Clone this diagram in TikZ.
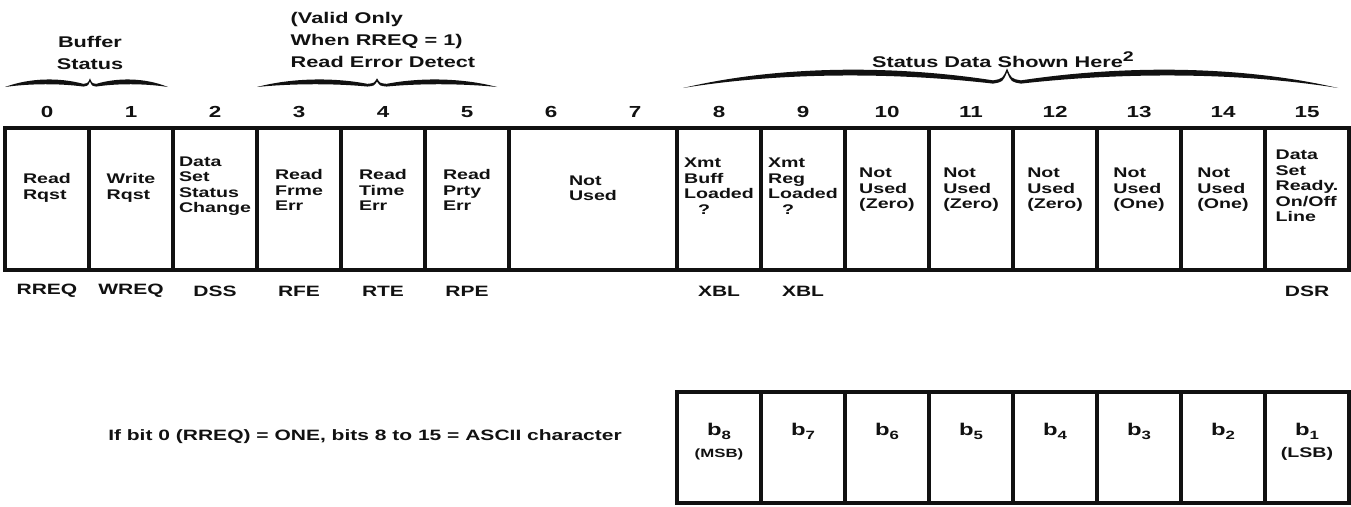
\documentclass[tikz,border=0pt]{standalone}
\usepackage{fontspec}
\setmainfont{Liberation Sans}[FakeStretch=1.4]
\usepackage{tikz}
\usetikzlibrary{positioning}
\definecolor{Ink}{HTML}{111111}

\newcommand{\bfsz}[1]{\fontsize{#1}{#1}\selectfont\bfseries}
\newcommand{\headfont}{\fontsize{15.5}{22}\selectfont\bfseries}
\newcommand{\cellfont}{\fontsize{14}{15.5}\selectfont\bfseries}
\newcommand{\sigfont}{\fontsize{15}{15}\selectfont\bfseries}
\newcommand{\numfont}{\fontsize{16}{16}\selectfont\bfseries}
\newcommand{\bitfont}{\fontsize{17}{17}\selectfont\bfseries}
% wavy over-brace: left x, tip x, right x, arm y, drop
\newcommand{\armbrace}[5]{%
  \pgfmathsetmacro\bL{#2-#1}\pgfmathsetmacro\bR{#3-#2}%
  \pgfmathsetmacro\bw{min(14,0.08*\bL)}\pgfmathsetmacro\bv{min(14,0.08*\bR)}%
  \pgfmathsetmacro\bt{max(4.5,0.32*#5)}%
  \fill[Ink] (#1,{#4+#5})
    .. controls ({#1+0.3*\bL},{#4-0.35*#5}) and ({#2-0.35*\bL},{#4-0.35*#5}) .. ({#2-\bw},{#4+0.55*#5})
    .. controls ({#2-0.3*\bw},{#4+0.45*#5}) .. (#2,{#4-0.1*#5-1})
    .. controls ({#2+0.3*\bv},{#4+0.45*#5}) .. ({#2+\bv},{#4+0.55*#5})
    .. controls ({#2+0.35*\bR},{#4-0.35*#5}) and ({#3-0.3*\bR},{#4-0.35*#5}) .. (#3,{#4+#5})
    .. controls ({#3-0.3*\bR},{#4-0.35*#5+1.3*\bt}) and ({#2+0.35*\bR},{#4-0.35*#5+1.3*\bt}) .. ({#2+\bv},{#4+0.55*#5+0.6*\bt})
    .. controls ({#2+0.3*\bv},{#4+0.45*#5+0.6*\bt}) .. (#2,{#4-0.1*#5-1+0.7*\bt})
    .. controls ({#2-0.3*\bw},{#4+0.45*#5+0.6*\bt}) .. ({#2-\bw},{#4+0.55*#5+0.6*\bt})
    .. controls ({#2-0.35*\bL},{#4-0.35*#5+1.3*\bt}) and ({#1+0.3*\bL},{#4-0.35*#5+1.3*\bt}) .. (#1,{#4+#5})
    -- cycle;}

\begin{document}
\begin{tikzpicture}[x=1pt,y=-1pt,
  head/.style={font=\headfont, align=left, inner sep=0pt, text=Ink},
  bitno/.style={font=\numfont, inner sep=0pt, text=Ink},
  sig/.style={font=\sigfont, inner sep=0pt, text=Ink},
  celltxt/.style={font=\cellfont, align=left, inner sep=0pt, text=Ink},
  bittxt/.style={font=\bitfont, inner sep=0pt, text=Ink}]
  \useasboundingbox (0,0) rectangle (1351,506);

  % group labels and braces
  \node[head, align=center] (buf) at (90,53) {Buffer\\Status};
  \node[head] (rerr) at (383,40) {(Valid Only\\When RREQ = 1)\\Read Error Detect};
  \node[head] (stat) at (1003,60) {Status Data Shown Here\raisebox{6pt}{\bfsz{14}2}};
  \armbrace{5}{90}{168}{80}{7}
  \armbrace{257}{377}{497}{80}{7}
  \armbrace{683}{1007}{1338}{71}{17}

  % register word
  \draw[Ink, line width=4.5] (5,128) rectangle (1349,270);
  \foreach \k in {1,...,6,8,9,...,15}
    \draw[Ink, line width=3.2] ({5+84*\k},128) -- ({5+84*\k},270);
  \foreach \i in {0,...,15}
    \node[bitno] (n\i) at ({47+84*\i},112) {\i};

  \foreach \x/\y/\nm/\txt in {
    47/188/c0/{Read\\Rqst}, 131/188/c1/{Write\\Rqst},
    215/186/c2/{Data\\Set\\Status\\Change}, 299/190/c3/{Read\\Frme\\Err},
    383/190/c4/{Read\\Time\\Err}, 467/190/c5/{Read\\Prty\\Err},
    593/188/c6/{Not\\Used},
    719/186/c8/{Xmt\\Buff\\Loaded\\\hspace*{14pt}?}, 803/186/c9/{Xmt\\Reg\\Loaded\\\hspace*{14pt}?},
    887/190/c10/{Not\\Used\\(Zero)}, 971/190/c11/{Not\\Used\\(Zero)},
    1055/190/c12/{Not\\Used\\(Zero)}, 1139/190/c13/{Not\\Used\\(One)},
    1223/190/c14/{Not\\Used\\(One)}, 1307/186/c15/{Data\\Set\\Ready.\\On/Off\\Line}}
    \node[celltxt] (\nm) at (\x,\y) {\txt};

  \foreach \i/\s in {0/RREQ,1/WREQ,2/DSS,3/RFE,4/RTE,5/RPE,8/XBL,9/XBL,15/DSR}
    \node[sig] (s\i) at ({47+84*\i},291) {\s};

  % ASCII byte
  \node[sig] (note) at (365,437) {If bit 0 (RREQ) = ONE, bits 8 to 15 = ASCII character};
  \draw[Ink, line width=4.5] (677,392) rectangle (1349,503);
  \foreach \k in {9,...,15}
    \draw[Ink, line width=3.2] ({5+84*\k},392) -- ({5+84*\k},503);
  \foreach \k/\b in {8/8,9/7,10/6,11/5,12/4,13/3,14/2,15/1}
    \node[bittxt] (b\b) at ({47+84*\k},431) {b\raisebox{-4pt}{\bfsz{12}\b}};
  \node[sig, font=\bfsz{12}, below=9pt of b8] (msb) {(MSB)};
  \node[sig, font=\bfsz{14}, below=8pt of b1] (lsb) {(LSB)};
\end{tikzpicture}
\end{document}
